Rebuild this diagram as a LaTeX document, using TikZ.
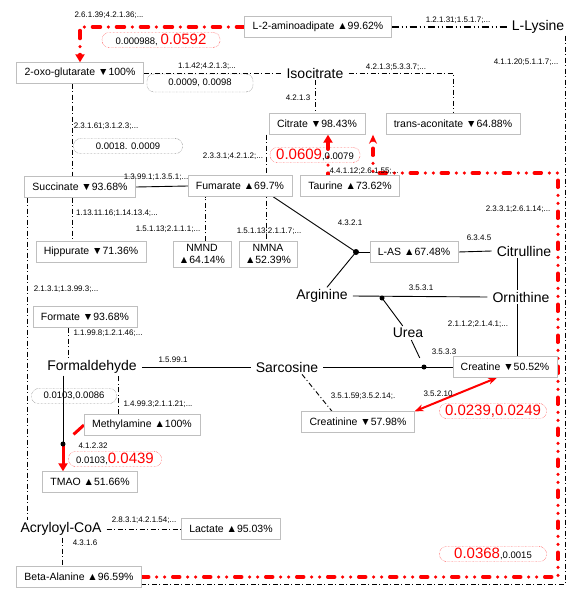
\documentclass[tikz,border=0pt]{standalone}
\usepackage{fontspec}
\setmainfont{Liberation Sans}
\usetikzlibrary{arrows.meta,backgrounds}

\newcommand{\redp}[1]{{\color{red}\fontsize{15}{16}\selectfont #1}}

\tikzset{
  met/.style={draw=gray!50, fill=white, font=\fontsize{10.5}{12}\selectfont, inner xsep=8pt, minimum height=21pt},
  cpd/.style={font=\fontsize{14}{16}\selectfont, inner xsep=5pt, inner ysep=2pt},
  ec/.style={font=\fontsize{8}{9}\selectfont, inner sep=0pt},
  pv/.style={draw=black!70, densely dotted, rounded corners=7pt, font=\fontsize{9.5}{11}\selectfont, inner sep=1pt, minimum height=15pt},
  pvr/.style={pv, draw=red},
  dd/.style={line width=0.9pt, dash pattern=on 5pt off 2.5pt on 1pt off 2.5pt},
  ddd/.style={line width=1.3pt, dash pattern=on 7pt off 3pt on 1pt off 3pt on 1pt off 3pt},
  rdd/.style={red, line width=3.5pt, line cap=round, dash pattern=on 8pt off 8pt on 0pt off 8pt},
  rddd/.style={red, line width=3.5pt, line cap=round, dash pattern=on 7pt off 8pt on 0pt off 8pt on 0pt off 8pt},
  rxn/.style={line width=0.9pt},
}

\begin{document}
\begin{tikzpicture}[x=1pt,y=-1pt]
\useasboundingbox (0,0) rectangle (577,600);

% metabolites
\node[met] (ami) at (318,27) {L-2-aminoadipate ▲99.62\%};
\node[cpd] (lys) at (538,27) {L-Lysine};
\node[met] (ogl) at (80,73) {2-oxo-glutarate ▼100\%};
\node[cpd] (iso) at (315,73) {Isocitrate};
\node[met] (cit) at (317,124) {Citrate ▼98.43\%};
\node[met] (tac) at (453,124) {trans-aconitate ▼64.88\%};
\node[met] (suc) at (80,187) {Succinate ▼93.68\%};
\node[met] (fum) at (240,186) {Fumarate ▲69.7\%};
\node[met] (tau) at (350,186) {Taurine ▲73.62\%};
\node[met] (hip) at (91,252) {Hippurate ▼71.36\%};
\node[met,align=center,inner xsep=6pt] (nmnd) at (202,254) {NMND\\▲64.14\%};
\node[met,align=center,inner xsep=6pt] (nmna) at (268,254) {NMNA\\▲52.39\%};
\node[met] (las) at (414,252) {L-AS ▲67.48\%};
\node[cpd] (ctl) at (524,251) {Citrulline};
\node[cpd] (arg) at (322,296) {Arginine};
\node[cpd] (orn) at (521,297) {Ornithine};
\node[cpd] (ure) at (408,333) {Urea};
\node[met] (fmt) at (85,317) {Formate ▼93.68\%};
\node[cpd] (fal) at (92,367) {Formaldehyde};
\node[cpd] (sar) at (287,367) {Sarcosine};
\node[met] (cre) at (505,367) {Creatine ▼50.52\%};
\node[met] (crn) at (358,422) {Creatinine ▼57.98\%};
\node[met] (mea) at (142,425) {Methylamine ▲100\%};
\node[met] (tma) at (90,482) {TMAO ▲51.66\%};
\node[cpd] (acr) at (61,529) {Acryloyl-CoA};
\node[met] (lac) at (231,529) {Lactate ▲95.03\%};
\node[met] (bal) at (79,577) {Beta-Alanine ▲96.59\%};

\coordinate (jL) at (356,252);% to L-AS
\coordinate (jU) at (382,298);% urea branch
\coordinate (jC) at (424,367);
\coordinate (jT) at (63,444);% TMAO branch
\coordinate (rR) at (558,173);% red loop corner
\coordinate (rT) at (373,173);

\begin{scope}[on background layer]
\draw[ddd] (ami.east) -- (lys.west);
\draw[rdd,-{Triangle[length=8pt,width=9pt]}] (ami.west) -| (ogl.north);
\draw[dd] (ogl.east) -- (iso.west);
\draw[dd] (iso.south) -- (iso.south |- cit.north);
\draw[dd] (iso.east) -| (tac.north);
\draw[dd] ([xshift=-8pt]ogl.south) -- ([xshift=-8pt]suc.north);
\draw[dd] ([xshift=-8pt]suc.south) -- ([xshift=-8pt]suc.south |- hip.north);
\draw[rxn] (suc.east) -- (fum.west);
\draw[dd] ([xshift=-51pt]cit.south) -- ([xshift=-51pt]cit.south |- nmna.north);
\draw[dd] ([xshift=3pt]nmnd.north) -- ([xshift=3pt]nmnd.north |- fum.south);
\draw[dd] ([xshift=-53pt]suc.south) -- ([xshift=-53pt]suc.south |- acr.north);
\draw[dd] ([xshift=-17pt]fmt.south) -- ([xshift=-17pt]fmt.south |- fal.north);
\draw[dd] ([xshift=-24pt]mea.north) -- ([xshift=-24pt]mea.north |- fal.south);
\draw[dd] (acr.east) -- (lac.west);
\draw[dd] ([xshift=1pt]acr.south) -- ([xshift=1pt]acr.south |- bal.north);
\draw[dd] ([xshift=-4pt]lys.south east) |- ([yshift=-7pt]bal.east);
\draw[rddd,-{Stealth[length=9pt,width=8pt]}] (bal.east) -| (rR) -- (rT) -- (rT |- cit.south);
\draw[rddd,{Triangle[length=8pt,width=9pt]}-] ([xshift=-22pt]tau.north |- cit.south) -- ([xshift=-22pt]tau.north);
% solid reactions
\draw[rxn] ([xshift=33pt]fum.south) -- (jL);
\draw[rxn] ([xshift=5pt]arg.north) -- (jL);
\draw[rxn] (jL) -- (las.west);
\draw[rxn] (las.east) -- (ctl.west);
\draw[rxn] ([xshift=-4pt]orn.north) -- ([xshift=-4pt]orn.north |- ctl.south);
\draw[rxn] (arg.east) -- (orn.west);
\draw[rxn] (jU) -- (ure);
\draw[rxn,shorten >=10pt] (ure) -- (jC);
\draw[rxn] ([xshift=-4pt]orn.south) -- ([xshift=-4pt]orn.south |- cre.north);
\draw[rxn] (fal.east) -- (sar.west);
\draw[rxn] (sar.east) -- (cre.west);
\draw[dd] ([xshift=15pt]sar.south) -- ([xshift=-26pt]crn.north);
\draw[red,line width=2pt,{Stealth[length=9pt,width=7pt]}-{Stealth[length=9pt,width=7pt]}] (crn.north east) -- ([xshift=-8pt]cre.south);
\draw[rxn] (fal.south -| jT) -- (jT);
\draw[red,line width=3pt,dash pattern=on 14pt off 20pt] (mea.west) -- (jT);
\draw[red,line width=3pt,-{Triangle[length=8pt,width=9pt]}] (jT) -- (jT |- tma.north);
\end{scope}
\fill (jL) circle (3pt);
\fill (jU) circle (2.5pt);
\fill (jC) circle (2.5pt);
\fill (jT) circle (2.5pt);

% enzyme labels
\foreach \pos/\txt [count=\i] in {
  {109,15}/{2.6.1.39;4.2.1.36;...}, {458,20}/{1.2.1.31;1.5.1.7;...},
  {207,66}/{1.1.42;4.2.1.3;...}, {298,98}/{4.2.1.3},
  {396,67}/{4.2.1.3;5.3.3.7;...}, {526,62}/{4.1.1.20;5.1.1.7;...},
  {106,126}/{2.3.1.61;3.1.2.3;...}, {233,156}/{2.3.3.1;4.2.1.2;...},
  {156,177}/{1.3.99.1;1.3.5.1;...}, {117,213}/{1.13.11.16;1.14.13.4;...},
  {168,229}/{1.5.1.13;2.1.1.1;...}, {269,231}/{1.5.1.13;2.1.1.7;...},
  {364,171}/{4.4.1.12;2.6.1.55;...}, {518,209}/{2.3.3.1;2.6.1.14;...},
  {350,223}/{4.3.2.1}, {479,238}/{6.3.4.5},
  {66,289}/{2.1.3.1;1.3.99.3;...}, {421,288}/{3.5.3.1},
  {478,324}/{2.1.1.2;2.1.4.1;...}, {108,333}/{1.1.99.8;1.2.1.46;...},
  {444,352}/{3.5.3.3}, {173,360}/{1.5.99.1},
  {363,396}/{3.5.1.59;3.5.2.14;.}, {438,394}/{3.5.2.10},
  {158,404}/{1.4.99.3;2.1.1.21;...}, {93,446}/{4.1.2.32},
  {144,520}/{2.8.3.1;4.2.1.54;...}, {85,543}/{4.3.1.6}}{
    \node[ec] (ec\i) at (\pos) {\txt};
}

% p-values
\node[pvr,minimum width=118pt] (p1) at (161,40) {0.000988, \redp{0.0592}};
\node[pv,minimum width=106pt,minimum height=18pt] (p2) at (200,83) {0.0009, 0.0098};
\node[pv,minimum width=109pt] (p3) at (128,146) {0.0018. 0.0009};
\node[pvr,minimum width=90pt] (p4) at (315,155) {\redp{0.0609},0.0079};
\node[pv,minimum width=85pt] (p5) at (74,396) {0.0103,0.0086};
\node[pvr,minimum width=93pt] (p6) at (115,459) {0.0103,\redp{0.0439}};
\node[pvr,minimum width=107pt] (p7) at (493,411) {\redp{0.0239,0.0249}};
\node[pvr,minimum width=107pt] (p8) at (493,554) {\redp{0.0368},0.0015};
\end{tikzpicture}
\end{document}
